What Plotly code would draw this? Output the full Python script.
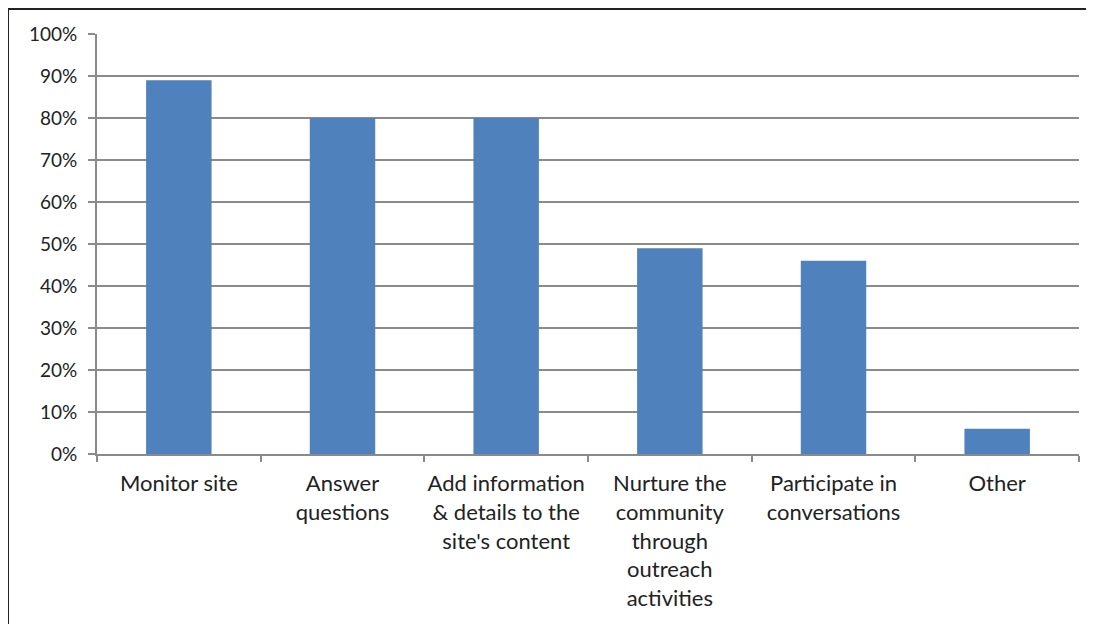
import plotly.graph_objects as go

categories = ["Monitor site", "Answer<br>questions", "Add information<br>&amp; details to the<br>site's content",
              "Nurture the<br>community<br>through<br>outreach<br>activities", "Participate in<br>conversations", "Other"]
values = [89, 80, 80, 49, 46, 6]
y_ticks = [0, 10, 20, 30, 40, 50, 60, 70, 80, 90, 100]
y_labels = [f"{v}%" for v in y_ticks]

OFF = 8  # page body margin
W, H = 1094 - OFF, 624 - OFF
L, T = 97 - OFF, 34 - OFF
R = W - (1079 - OFF)
B = H - (454 - OFF)
pw, ph = W - L - R, H - T - B

fig = go.Figure(go.Bar(x=categories, y=values, marker=dict(color="#4f81bd", line=dict(width=0)),
                       width=0.4))

fig.update_layout(
    width=W, height=H, margin=dict(l=L, r=R, t=T, b=B),
    paper_bgcolor="white", plot_bgcolor="white", showlegend=False,
    font=dict(family="Lato, Open Sans, sans-serif", size=19, color="#222"),
    xaxis=dict(type="category", showline=True, linecolor="#8a8a8a", linewidth=2,
               ticks="outside", tickson="boundaries", ticklen=6, tickcolor="#8a8a8a", tickwidth=2,
               showgrid=False, tickangle=0, ticklabelstandoff=9,
               tickfont=dict(size=22, family="Lato, Open Sans, sans-serif", color="#222")),
    yaxis=dict(range=[0, 100], tickmode="array", tickvals=y_ticks, ticktext=y_labels,
               showline=True, linecolor="#8a8a8a", linewidth=2, ticks="outside", ticklen=7,
               tickcolor="#8a8a8a", tickwidth=2, showgrid=True, gridcolor="#8a8a8a", gridwidth=1.5,
               zeroline=False, ticklabelstandoff=7),
)

fig.add_shape(type="rect", xref="paper", yref="paper",
              x0=(8 - 97) / pw, x1=(1091 - 97) / pw, y0=-0.6, y1=1 + (34 - 9) / ph,
              line=dict(color="#222", width=2), fillcolor="rgba(0,0,0,0)", layer="below")

fig.write_html("out.html")
